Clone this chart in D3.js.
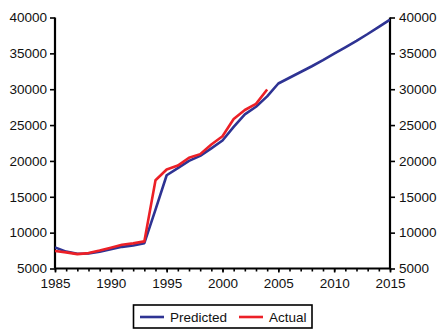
<!DOCTYPE html>
<html>
<head>
<meta charset="utf-8">
<script src="https://cdn.jsdelivr.net/npm/d3@7/dist/d3.min.js"></script>
<style>
  html, body { margin: 0; padding: 0; background: #fff; }
  svg { display: block; }
  text { font-family: "Liberation Sans", Arial, Helvetica, sans-serif; fill: #111; }
</style>
</head>
<body>
<svg id="chart" width="440" height="330"></svg>
<script>
const predYears = [1985,1986,1987,1988,1989,1990,1991,1992,1993,1994,1995,1996,1997,1998,1999,2000,2001,2002,2003,2004,2005,2006,2007,2008,2009,2010,2011,2012,2013,2014,2015];
const predicted = [7950,7350,7050,7100,7350,7700,8020,8200,8530,13200,18000,19000,20000,20700,21750,22850,24750,26500,27550,29000,30800,31600,32400,33200,34050,34950,35850,36750,37700,38700,39700];
const actualYears = [1985,1986,1987,1988,1989,1990,1991,1992,1993,1994,1995,1996,1997,1998,1999,2000,2001,2002,2003,2004];
const actual = [7450,7250,7000,7150,7500,7900,8300,8500,8780,17300,18800,19350,20450,20950,22300,23450,25850,27100,27950,29950];
const yTicks = [5000,10000,15000,20000,25000,30000,35000,40000];
const xTicks = [1985,1990,1995,2000,2005,2010,2015];
const seriesNames = ["Predicted","Actual"];
const seriesColors = ["#2E3393","#EC2027"];

const svg = d3.select("#chart");
const mL = 55, mR = 390, mT = 17.5, mB = 268.5;

const x = d3.scaleLinear().domain([1985, 2015]).range([mL, mR]);
const y = d3.scaleLinear().domain([5000, 40000]).range([mB, mT]);

const yl = d3.axisLeft(y).tickValues(yTicks).tickSize(5).tickPadding(3).tickFormat(d3.format("d"));
const gl = svg.append("g").attr("transform", `translate(${mL},0)`).call(yl);
const yr = d3.axisRight(y).tickValues(yTicks).tickSize(5).tickPadding(4).tickFormat(d3.format("d"));
const gr = svg.append("g").attr("transform", `translate(${mR},0)`).call(yr);
const xb = d3.axisBottom(x).tickValues(xTicks).tickSize(4).tickPadding(6).tickFormat(d3.format("d"));
const gb = svg.append("g").attr("transform", `translate(0,${mB})`).call(xb);
const xm = d3.axisBottom(x).tickValues(d3.range(1985, 2016)).tickSize(3).tickFormat("");
const gm = svg.append("g").attr("transform", `translate(0,${mB})`).call(xm);

[gl, gr, gb, gm].forEach(g => {
  g.selectAll(".domain").attr("stroke", "#000").attr("stroke-width", 2.2);
  g.selectAll(".tick line").attr("stroke", "#000").attr("stroke-width", 1.6);
  g.selectAll(".tick text").attr("font-size", 13.5).attr("fill", "#111")
    .style("font-family", '"Liberation Sans", Arial, sans-serif');
});
gl.select(".domain").attr("d", `M0,${mT}V${mB}`);
gr.select(".domain").attr("d", `M0,${mT}V${mB}`);
gb.select(".domain").attr("d", `M${mL},0H${mR}`);
gm.select(".domain").remove();

const line = d3.line().x(d => x(d[0])).y(d => y(d[1]));
const predData = predYears.map((yv, i) => [yv, predicted[i]]);
const actData = actualYears.map((yv, i) => [yv, actual[i]]);

svg.append("clipPath").attr("id", "clip").append("rect")
  .attr("x", mL).attr("y", mT - 3).attr("width", mR - mL).attr("height", mB - mT + 3);

const plot = svg.append("g").attr("clip-path", "url(#clip)");
plot.append("path").datum(predData).attr("d", line)
  .attr("fill", "none").attr("stroke", seriesColors[0]).attr("stroke-width", 2.6).attr("stroke-linejoin", "round");
plot.append("path").datum(actData).attr("d", line)
  .attr("fill", "none").attr("stroke", seriesColors[1]).attr("stroke-width", 2.6).attr("stroke-linejoin", "round");

const lg = svg.append("g");
lg.append("rect").attr("x", 133.5).attr("y", 305).attr("width", 178.5).attr("height", 23)
  .attr("fill", "#fff").attr("stroke", "#000").attr("stroke-width", 1.6);
const items = [{x: 140, tx: 170}, {x: 239, tx: 269}];
seriesNames.forEach((name, i) => {
  lg.append("line").attr("x1", items[i].x).attr("x2", items[i].x + 24)
    .attr("y1", 317).attr("y2", 317).attr("stroke", seriesColors[i]).attr("stroke-width", 2.6);
  lg.append("text").attr("x", items[i].tx).attr("y", 322).attr("font-size", 13.5).text(name);
});
</script>
</body>
</html>
